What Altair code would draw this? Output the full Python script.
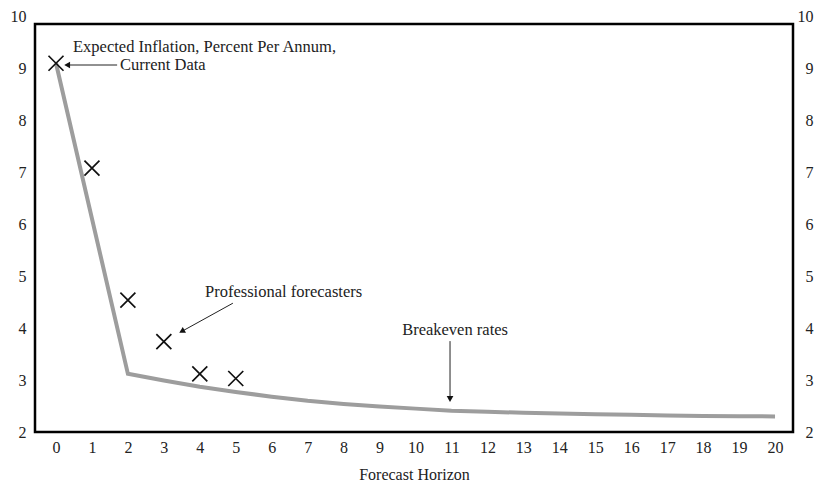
import altair as alt
import pandas as pd

# Breakeven rates (line)
be_x = [0, 2, 3, 4, 5, 6, 7, 8, 9, 10, 11, 12, 13, 14, 15, 16, 17, 18, 19, 20]
be_y = [9.10, 3.12, 2.99, 2.87, 2.77, 2.68, 2.60, 2.54, 2.49, 2.45, 2.41, 2.39,
        2.37, 2.355, 2.34, 2.33, 2.32, 2.31, 2.305, 2.30]

# Professional forecasters (X markers)
pf_x = [0, 1, 2, 3, 4, 5]
pf_y = [9.10, 7.08, 4.54, 3.74, 3.12, 3.03]

x_ticks = list(range(0, 21))
y_ticks = [2, 3, 4, 5, 6, 7, 8, 9, 10]

# Annotations
left_text = ["Expected Inflation, Percent Per Annum,", "Current Data"]
left_x = [0.473, 1.78]
left_y = [9.41, 9.066]
center_text = ["Professional forecasters", "Breakeven rates"]
center_x = [6.33, 11.10]
center_y = [4.70, 3.96]

arrow_x1 = [1.70, 4.92, 10.96]
arrow_y1 = [9.066, 4.48, 3.75]
arrow_x2 = [0.39, 3.56, 10.96]
arrow_y2 = [9.066, 3.96, 2.65]
head_x = [0.31, 3.50, 10.96]
head_y = [9.066, 3.94, 2.635]
head_angle = [270, 241, 180]

FONT = "Liberation Serif"
W, H = 758, 415.5

be_df = pd.DataFrame({"x": be_x, "y": be_y})
pf_df = pd.DataFrame({"x": pf_x, "y": pf_y})
left_df = pd.DataFrame({"x": left_x, "y": left_y, "t": left_text})
center_df = pd.DataFrame({"x": center_x, "y": center_y, "t": center_text})
arr_df = pd.DataFrame({"x": arrow_x1, "y": arrow_y1, "x2": arrow_x2, "y2": arrow_y2})
head_df = pd.DataFrame({"x": head_x, "y": head_y, "ang": head_angle})

xscale = alt.Scale(domain=[-0.584, 20.5], nice=False, zero=False)
yscale = alt.Scale(domain=[2, 10], nice=False, zero=False)

xaxis = alt.Axis(values=x_ticks, title="Forecast Horizon", domain=False, ticks=False,
                 grid=False, labelFont=FONT, labelFontSize=16, labelColor="#222",
                 labelPadding=7, titleFont=FONT, titleFontSize=16, titleFontWeight="normal",
                 titleColor="#222", titlePadding=11, labelFlush=False)
yaxis_l = alt.Axis(values=y_ticks, title=None, domain=False, ticks=False, grid=False,
                   labelFont=FONT, labelFontSize=16, labelColor="#222", labelPadding=9,
                   orient="left", labelFlush=False)
yaxis_r = alt.Axis(values=y_ticks, title=None, domain=False, ticks=False, grid=False,
                   labelFont=FONT, labelFontSize=16, labelColor="#222", labelPadding=20,
                   orient="right", labelAlign="right", labelFlush=False)

X = alt.X("x:Q", scale=xscale, axis=xaxis)

line = alt.Chart(be_df).mark_line(color="#9d9d9d", strokeWidth=4).encode(
    x=X,
    y=alt.Y("y:Q", scale=yscale, axis=yaxis_l),
)

pts = alt.Chart(pf_df).mark_point(
    shape="M-1,-1L1,1M-1,1L1,-1", size=225, filled=False, color="#111", strokeWidth=1.7,
    opacity=1,
).encode(
    x=X,
    y=alt.Y("y:Q", scale=yscale, axis=yaxis_r),
)

notes_l = alt.Chart(left_df).mark_text(font=FONT, fontSize=16.5, color="#222",
                                        baseline="middle", align="left").encode(
    x=X,
    y=alt.Y("y:Q", scale=yscale, axis=None),
    text="t:N",
)

notes_c = alt.Chart(center_df).mark_text(font=FONT, fontSize=16.5, color="#222",
                                          baseline="middle", align="center").encode(
    x=X,
    y=alt.Y("y:Q", scale=yscale, axis=None),
    text="t:N",
)

arrows = alt.Chart(arr_df).mark_rule(color="#222", strokeWidth=1).encode(
    x=X,
    y=alt.Y("y:Q", scale=yscale, axis=None),
    x2="x2:Q",
    y2="y2:Q",
)

heads = alt.Chart(head_df).mark_point(shape="triangle-up", size=45, filled=True,
                                      color="#111", opacity=1).encode(
    x=X,
    y=alt.Y("y:Q", scale=yscale, axis=None),
    angle=alt.Angle("ang:Q", scale=None),
)

frame = alt.Chart(pd.DataFrame({"k": [0]})).mark_rect(
    fill=None, stroke="#000", strokeWidth=2.5
).encode(
    x=alt.value(0), x2=alt.value(W), y=alt.value(7.5), y2=alt.value(H),
)

chart = alt.layer(line, pts, arrows, heads, notes_l, notes_c, frame).resolve_axis(
    y="independent"
).properties(
    width=W, height=H,
    autosize=alt.AutoSizeParams(type="none"),
    padding={"left": 35, "top": 16.5, "right": 25, "bottom": 54.5},
    background="white",
).configure_view(stroke=None)

chart.save("out.html", embed_options={"renderer": "svg", "actions": False})
